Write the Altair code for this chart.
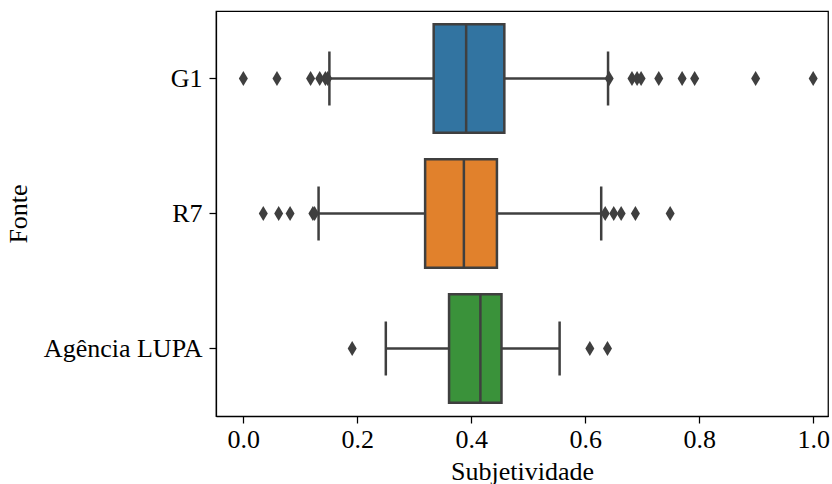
import altair as alt
import pandas as pd

categories = ["G1", "R7", "Agência LUPA"]
q1 = [0.334, 0.319, 0.361]
median = [0.391, 0.387, 0.416]
q3 = [0.458, 0.445, 0.453]
whisker_lo = [0.151, 0.132, 0.250]
whisker_hi = [0.640, 0.628, 0.555]

outliers_g1 = [0.0, 0.059, 0.118, 0.134, 0.144, 0.148, 0.642, 0.682, 0.691, 0.698,
               0.729, 0.770, 0.792, 0.899, 1.0]
outliers_r7 = [0.035, 0.062, 0.082, 0.122, 0.125, 0.635, 0.650, 0.663, 0.688, 0.749]
outliers_lupa = [0.191, 0.608, 0.639]

box_colors = ["#3274a1", "#e1812c", "#3a923a"]
line_color = "#3f3f3f"
FONT = "Liberation Serif"

box_df = pd.DataFrame({
    "Fonte": categories, "q1": q1, "median": median, "q3": q3,
    "lo": whisker_lo, "hi": whisker_hi,
})
out_df = pd.DataFrame({
    "Fonte": ["G1"] * len(outliers_g1) + ["R7"] * len(outliers_r7)
    + ["Agência LUPA"] * len(outliers_lupa),
    "value": outliers_g1 + outliers_r7 + outliers_lupa,
})

yenc = alt.Y(
    "Fonte:N", sort=categories,
    scale=alt.Scale(domain=categories, paddingInner=0, paddingOuter=0),
    axis=alt.Axis(title="Fonte", labelPadding=7, titlePadding=12),
)
xscale = alt.Scale(domain=[-0.048, 1.026], nice=False, zero=False)
xaxis = alt.Axis(title="Subjetividade", values=[0, 0.2, 0.4, 0.6, 0.8, 1.0],
                 format=".1f", labelPadding=3, titlePadding=6)

def X(field):
    return alt.X(f"{field}:Q", scale=xscale, axis=xaxis)

base = alt.Chart(box_df)

boxes = base.mark_bar(size=108.5, stroke=line_color, strokeWidth=2.5, opacity=1).encode(
    x=X("q1"), x2="q3", y=yenc,
    color=alt.Color("Fonte:N", scale=alt.Scale(domain=categories, range=box_colors), legend=None),
)
wl = base.mark_rule(color=line_color, strokeWidth=2.5).encode(x=X("lo"), x2="q1", y=yenc)
wh = base.mark_rule(color=line_color, strokeWidth=2.5).encode(x=X("q3"), x2="hi", y=yenc)
cap_lo = base.mark_tick(size=54, thickness=2.5, color=line_color, opacity=1).encode(x=X("lo"), y=yenc)
cap_hi = base.mark_tick(size=54, thickness=2.5, color=line_color, opacity=1).encode(x=X("hi"), y=yenc)
med = base.mark_tick(size=108.5, thickness=2.5, color=line_color, opacity=1).encode(x=X("median"), y=yenc)

pts = alt.Chart(out_df).mark_point(
    shape="M0,-1L0.6,0L0,1L-0.6,0Z", size=225, filled=True,
    color=line_color, opacity=1, strokeWidth=0,
).encode(x=X("value"), y=yenc)

chart = alt.layer(wl, wh, boxes, med, cap_lo, cap_hi, pts).properties(
    width=612, height=405,
    autosize=alt.AutoSizeParams(type="none"),
    padding={"left": 216, "top": 11, "right": 4, "bottom": 68},
    background="white",
).configure_view(
    stroke="black", strokeWidth=1.25,
).configure_axis(
    domainColor="black", domainWidth=1.25, tickColor="black", tickWidth=1.25,
    tickSize=7, grid=False,
    labelFont=FONT, labelFontSize=26, labelColor="black",
    titleFont=FONT, titleFontSize=26, titleFontWeight="normal", titleColor="black",
)

chart.save("out.html", embed_options={"renderer": "svg", "actions": False})
